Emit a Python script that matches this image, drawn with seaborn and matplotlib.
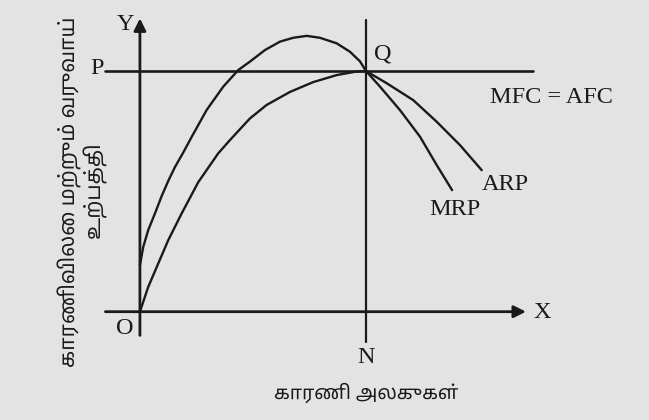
import numpy as np
import pandas as pd
import seaborn as sns
from matplotlib import pyplot as plt

# points (units: O = 0, N = 10 on x, P = 10 on y)
mrp_x = [0, 0.146, 0.367, 0.664, 0.960, 1.252, 1.549, 1.903, 2.288, 2.951, 3.686, 4.350,
         4.867, 5.531, 6.195, 6.783, 7.376, 7.965, 8.704, 9.292, 9.735, 10,
         10.62, 11.50, 12.39, 13.13, 13.81]
mrp_y = [1.93, 2.69, 3.39, 4.08, 4.80, 5.43, 6.01, 6.59, 7.26, 8.38, 9.35, 10.04,
         10.39, 10.87, 11.22, 11.38, 11.46, 11.38, 11.15, 10.80, 10.40, 10,
         9.35, 8.38, 7.27, 6.09, 5.05]
arp_x = [0, 0.367, 0.810, 1.252, 1.845, 2.580, 3.465, 3.982, 4.867, 5.606, 6.637, 7.668,
         8.704, 9.589, 10, 10.92, 12.09, 13.13, 14.16, 15.12]
arp_y = [0, 1.03, 2.00, 2.97, 4.08, 5.38, 6.58, 7.13, 8.03, 8.59, 9.13, 9.54,
         9.83, 9.98, 10, 9.49, 8.79, 7.89, 6.92, 5.88]

n_level = 10   # N on x axis
p_level = 10   # P on y axis

curve_labels = ['MRP', 'ARP']
line_label = 'MFC = AFC'
x_title = 'காரணி அலகுகள்'
y_title_1 = 'காரணிவிலை மற்றும் வருவாய்'
y_title_2 = 'உற்பத்தி'

mrp = pd.DataFrame({'x': mrp_x, 'y': mrp_y, 'curve': 'MRP'})
arp = pd.DataFrame({'x': arp_x, 'y': arp_y, 'curve': 'ARP'})
df = pd.concat([mrp, arp], ignore_index=True)

sns.set_style('white')
plt.rcParams['font.family'] = ['Liberation Serif', 'DejaVu Serif']
tamil = ['Noto Sans Tamil', 'Noto Sans', 'DejaVu Sans']
ink = '#1a1a1a'
paper = '#e3e3e3'

fig = plt.figure(figsize=(6.49, 4.2), dpi=100, facecolor=paper)
ax = fig.add_axes([0, 0, 1, 1])
ax.set_facecolor(paper)

sns.lineplot(data=df, x='x', y='y', hue='curve', units='curve', estimator=None, sort=False,
             palette={'MRP': ink, 'ARP': ink}, linewidth=1.7, legend=False, ax=ax,
             solid_joinstyle='round', solid_capstyle='round')

# axes with arrows
ax.annotate('', xy=(17.2, 0), xytext=(-1.65, 0),
            arrowprops=dict(arrowstyle='-|>', color=ink, lw=2, mutation_scale=18))
ax.annotate('', xy=(0, 12.3), xytext=(0, -1.1),
            arrowprops=dict(arrowstyle='-|>', color=ink, lw=2, mutation_scale=18))
ax.plot([-1.55, 17.4], [p_level, p_level], color=ink, lw=1.9)
ax.plot([n_level, n_level], [-1.25, 12.1], color=ink, lw=1.6)

fs = 17.5
ax.text(-0.25, 11.95, 'Y', fontsize=fs, ha='right', va='center', color=ink)
ax.text(17.4, -0.05, 'X', fontsize=fs, ha='left', va='center', color=ink)
ax.text(-0.3, -0.7, 'O', fontsize=fs, ha='right', va='center', color=ink)
ax.text(-1.6, p_level + 0.1, 'P', fontsize=fs, ha='right', va='center', color=ink)
ax.text(n_level + 0.35, p_level + 0.7, 'Q', fontsize=fs, ha='left', va='center', color=ink)
ax.text(n_level, -1.9, 'N', fontsize=fs, ha='center', va='center', color=ink)
ax.text(18.2, 8.9, line_label, fontsize=fs, ha='center', va='center', color=ink)
ax.text(16.15, 5.3, curve_labels[1], fontsize=fs, ha='center', va='center', color=ink)
ax.text(13.95, 4.25, curve_labels[0], fontsize=fs, ha='center', va='center', color=ink)

ax.text(n_level, -3.39, x_title, fontsize=13.8, ha='center', va='center', color=ink,
        family=tamil)
ax.text(-3.10, 4.97, y_title_1, fontsize=15, ha='center', va='center', color=ink,
        family=tamil, rotation=90)
ax.text(-1.99, 5.05, y_title_2, fontsize=15, ha='center', va='center', color=ink,
        family=tamil, rotation=90)

ax.set_xlim(-6.19, 22.52)
ax.set_ylim(-4.50, 12.95)
ax.axis('off')

fig.savefig('out.png', dpi=100, facecolor=fig.get_facecolor())
